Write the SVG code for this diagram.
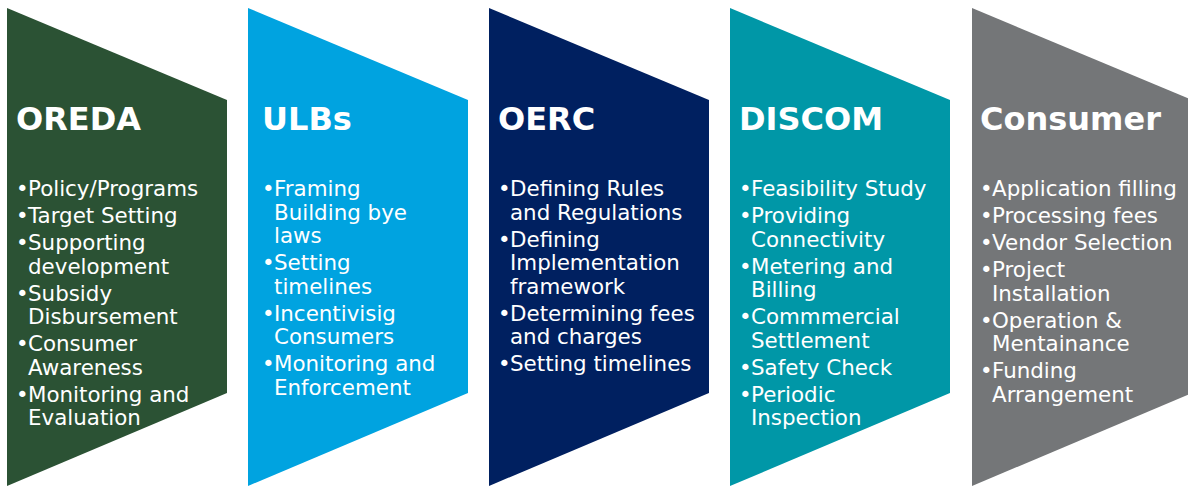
<svg xmlns="http://www.w3.org/2000/svg" width="1188" height="486" viewBox="0 0 1188 486">
<style>
text{font-family:"DejaVu Sans",Verdana,sans-serif;fill:#fff}
.h{font-size:32px;font-weight:bold}
.b{font-size:21.4px}
</style>
<rect width="1188" height="486" fill="#fff"/>
<g id="oreda">
<polygon points="7,8 227,100 227,393 7,486" fill="#2B5234"/>
<text class="h" x="16" y="130">OREDA</text>
<text class="b" transform="translate(0,1)"><tspan x="16" y="195">•</tspan><tspan x="28">Policy/Programs</tspan><tspan x="16" y="222">•</tspan><tspan x="28">Target Setting</tspan><tspan x="16" y="249">•</tspan><tspan x="28">Supporting</tspan><tspan x="28" y="272.5">development</tspan><tspan x="16" y="299.5">•</tspan><tspan x="28">Subsidy</tspan><tspan x="28" y="323">Disbursement</tspan><tspan x="16" y="350">•</tspan><tspan x="28">Consumer</tspan><tspan x="28" y="373.5">Awareness</tspan><tspan x="16" y="400.5">•</tspan><tspan x="28">Monitoring and</tspan><tspan x="28" y="424">Evaluation</tspan></text>
</g>
<g id="ulbs">
<polygon points="248,8 468,100 468,393 248,486" fill="#00A3E0"/>
<text class="h" x="262" y="130">ULBs</text>
<text class="b" transform="translate(0,1)"><tspan x="262" y="195">•</tspan><tspan x="274">Framing</tspan><tspan x="274" y="218.5">Building bye</tspan><tspan x="274" y="242">laws</tspan><tspan x="262" y="269">•</tspan><tspan x="274">Setting</tspan><tspan x="274" y="292.5">timelines</tspan><tspan x="262" y="319.5">•</tspan><tspan x="274">Incentivisig</tspan><tspan x="274" y="343">Consumers</tspan><tspan x="262" y="370">•</tspan><tspan x="274">Monitoring and</tspan><tspan x="274" y="393.5">Enforcement</tspan></text>
</g>
<g id="oerc">
<polygon points="489,8 709,100 709,393 489,486" fill="#002060"/>
<text class="h" x="498" y="130">OERC</text>
<text class="b" transform="translate(0,1)"><tspan x="498" y="195">•</tspan><tspan x="510">Defining Rules</tspan><tspan x="510" y="218.5">and Regulations</tspan><tspan x="498" y="245.5">•</tspan><tspan x="510">Defining</tspan><tspan x="510" y="269">Implementation</tspan><tspan x="510" y="292.5">framework</tspan><tspan x="498" y="319.5">•</tspan><tspan x="510">Determining fees</tspan><tspan x="510" y="343">and charges</tspan><tspan x="498" y="370">•</tspan><tspan x="510">Setting timelines</tspan></text>
</g>
<g id="discom">
<polygon points="730,8 950,100 950,393 730,486" fill="#0097A7"/>
<text class="h" x="739" y="130">DISCOM</text>
<text class="b" transform="translate(0,1)"><tspan x="739" y="195">•</tspan><tspan x="751">Feasibility Study</tspan><tspan x="739" y="222">•</tspan><tspan x="751">Providing</tspan><tspan x="751" y="245.5">Connectivity</tspan><tspan x="739" y="272.5">•</tspan><tspan x="751">Metering and</tspan><tspan x="751" y="296">Billing</tspan><tspan x="739" y="323">•</tspan><tspan x="751">Commmercial</tspan><tspan x="751" y="346.5">Settlement</tspan><tspan x="739" y="373.5">•</tspan><tspan x="751">Safety Check</tspan><tspan x="739" y="400.5">•</tspan><tspan x="751">Periodic</tspan><tspan x="751" y="424">Inspection</tspan></text>
</g>
<g id="consumer">
<polygon points="972,8 1192,100 1192,393 972,486" fill="#747678"/>
<text class="h" x="980" y="130">Consumer</text>
<text class="b" transform="translate(0,1)"><tspan x="980" y="195">•</tspan><tspan x="992">Application filling</tspan><tspan x="980" y="222">•</tspan><tspan x="992">Processing fees</tspan><tspan x="980" y="249">•</tspan><tspan x="992">Vendor Selection</tspan><tspan x="980" y="276">•</tspan><tspan x="992">Project</tspan><tspan x="992" y="299.5">Installation</tspan><tspan x="980" y="326.5">•</tspan><tspan x="992">Operation &amp;</tspan><tspan x="992" y="350">Mentainance</tspan><tspan x="980" y="377">•</tspan><tspan x="992">Funding</tspan><tspan x="992" y="400.5">Arrangement</tspan></text>
</g>
<g id="connectors"/>
</svg>
